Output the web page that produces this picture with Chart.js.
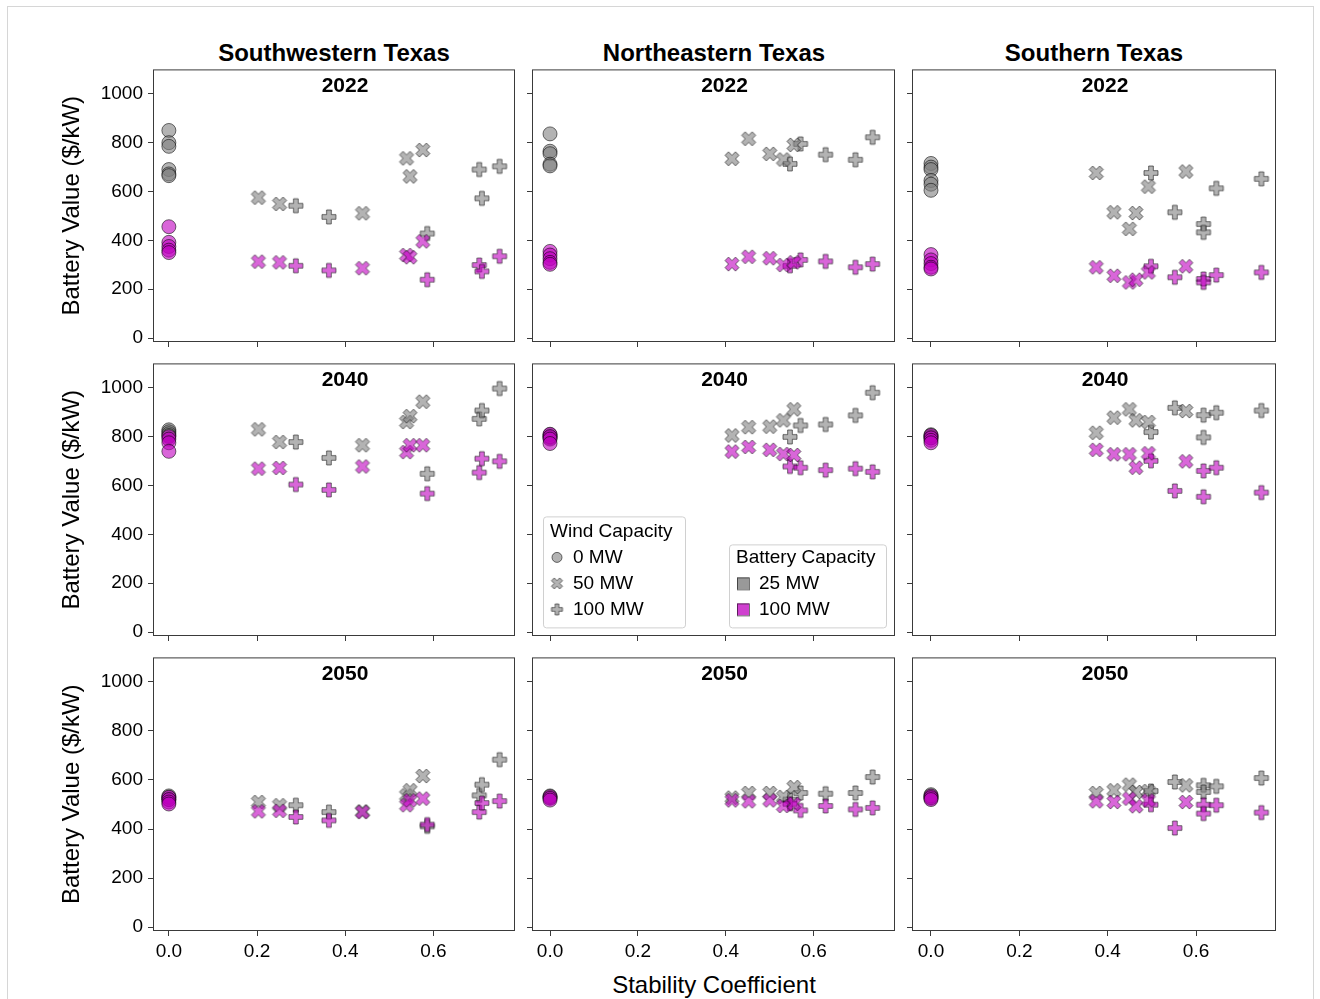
<!DOCTYPE html>
<html>
<head>
<meta charset="utf-8">
<script src="https://cdn.jsdelivr.net/npm/chart.js@4.4.0/dist/chart.umd.min.js"></script>
<style>
  body { margin: 0; background: #fff; font-family: "Liberation Sans", Arial, sans-serif; }
  #page { position: relative; width: 1320px; height: 999px; overflow: hidden; }
  #frame { position: absolute; left: 7px; top: 6px; width: 1305px; height: 1000px; border: 1px solid #d6d6d6; }
  canvas.panel { position: absolute; }
  .coltitle { position: absolute; top: 39px; width: 400px; font-size: 24px; line-height: 28px; font-weight: bold; text-align: center; }
  #xlabel { position: absolute; left: 514px; top: 971px; width: 400px; font-size: 24px; line-height: 28px; text-align: center; }
</style>
</head>
<body>
<div id="page">
  <div id="frame"></div>
  <div class="coltitle" style="left:134px">Southwestern Texas</div>
  <div class="coltitle" style="left:514px">Northeastern Texas</div>
  <div class="coltitle" style="left:894px">Southern Texas</div>
  <div id="xlabel">Stability Coefficient</div>
</div>
<script>
const FONT = '"Liberation Sans", Arial, sans-serif';

const regions = ['Southwestern Texas', 'Northeastern Texas', 'Southern Texas'];
const years = ['2022', '2040', '2050'];
const xTicks = [0, 0.2, 0.4, 0.6];
const yTicks = [0, 200, 400, 600, 800, 1000];

// stability coefficient of each site, by wind capacity
const swWind50 = [0.203, 0.251, 0.439, 0.539, 0.547, 0.576];
const swWind100 = [0.288, 0.363, 0.586, 0.704, 0.710, 0.750];
const neWind50 = [0.414, 0.452, 0.500, 0.531, 0.555];
const neWind100 = [0.546, 0.570, 0.627, 0.695, 0.734];
const sWind50 = [0.374, 0.414, 0.449, 0.464, 0.492, 0.577];
const sWind100 = [0.498, 0.552, 0.617, 0.617, 0.646, 0.748];

// battery value ($/kW). NoWind = 0 MW wind (x = 0), Bat25 / Bat100 = battery capacity
const sw2022NoWindBat25 = [850, 800, 785, 690, 672, 665];
const sw2022NoWindBat100 = [456, 392, 375, 360, 350];
const sw2022Wind50Bat25 = [575, 549, 511, 736, 662, 770];
const sw2022Wind50Bat100 = [313, 310, 286, 340, 331, 396];
const sw2022Wind100Bat25 = [542, 496, 428, 690, 572, 703];
const sw2022Wind100Bat100 = [296, 277, 239, 299, 273, 335];

const sw2040NoWindBat25 = [828, 820, 812, 805];
const sw2040NoWindBat100 = [800, 790, 775, 740];
const sw2040Wind50Bat25 = [830, 778, 765, 860, 884, 943];
const sw2040Wind50Bat100 = [669, 672, 678, 737, 765, 765];
const sw2040Wind100Bat25 = [778, 713, 648, 873, 907, 997];
const sw2040Wind100Bat100 = [604, 582, 567, 653, 710, 699];

const sw2050NoWindBat25 = [535, 528, 520];
const sw2050NoWindBat100 = [530, 520, 510, 502];
const sw2050Wind50Bat25 = [510, 497, 472, 537, 558, 616];
const sw2050Wind50Bat100 = [472, 474, 469, 497, 517, 524];
const sw2050Wind100Bat25 = [497, 469, 411, 537, 581, 683];
const sw2050Wind100Bat100 = [449, 435, 418, 469, 506, 514];

const ne2022NoWindBat25 = [836, 765, 755, 712, 705];
const ne2022NoWindBat100 = [355, 340, 325, 310, 302];
const ne2022Wind50Bat25 = [734, 816, 754, 731, 791];
const ne2022Wind50Bat100 = [303, 333, 327, 299, 310];
const ne2022Wind100Bat25 = [713, 795, 751, 730, 822];
const ne2022Wind100Bat100 = [296, 320, 314, 290, 303];

const ne2040NoWindBat25 = [808, 800, 795];
const ne2040NoWindBat100 = [810, 800, 790, 772];
const ne2040Wind50Bat25 = [805, 839, 841, 867, 912];
const ne2040Wind50Bat100 = [739, 758, 746, 729, 725];
const ne2040Wind100Bat25 = [799, 846, 850, 887, 980];
const ne2040Wind100Bat100 = [678, 673, 663, 669, 656];

const ne2050NoWindBat25 = [535, 528];
const ne2050NoWindBat100 = [532, 525, 518];
const ne2050Wind50Bat25 = [528, 547, 547, 531, 571];
const ne2050Wind50Bat100 = [517, 513, 517, 494, 503];
const ne2050Wind100Bat25 = [520, 547, 544, 547, 612];
const ne2050Wind100Bat100 = [503, 476, 494, 480, 486];

const s2022NoWindBat25 = [715, 700, 690, 645, 630, 605];
const s2022NoWindBat100 = [342, 320, 305, 290, 283];
const s2022Wind50Bat25 = [676, 515, 447, 512, 620, 682];
const s2022Wind50Bat100 = [290, 255, 228, 239, 269, 294];
const s2022Wind100Bat25 = [676, 515, 467, 433, 613, 652];
const s2022Wind100Bat100 = [294, 249, 242, 228, 258, 269];

const s2040NoWindBat25 = [808, 800, 795];
const s2040NoWindBat100 = [805, 795, 785, 775];
const s2040Wind50Bat25 = [816, 878, 912, 867, 860, 905];
const s2040Wind50Bat100 = [746, 728, 728, 673, 732, 699];
const s2040Wind100Bat25 = [819, 918, 888, 797, 898, 907];
const s2040Wind100Bat100 = [701, 578, 660, 554, 673, 571];

const s2050NoWindBat25 = [540, 532, 525];
const s2050NoWindBat100 = [535, 528, 520];
const s2050Wind50Bat25 = [547, 558, 581, 551, 555, 578];
const s2050Wind50Bat100 = [513, 510, 524, 493, 517, 510];
const s2050Wind100Bat25 = [555, 592, 578, 551, 574, 608];
const s2050Wind100Bat100 = [499, 404, 499, 463, 497, 467];

const panelData = [
  [sw2022NoWindBat25, sw2022NoWindBat100, sw2022Wind50Bat25, sw2022Wind50Bat100, sw2022Wind100Bat25, sw2022Wind100Bat100],
  [ne2022NoWindBat25, ne2022NoWindBat100, ne2022Wind50Bat25, ne2022Wind50Bat100, ne2022Wind100Bat25, ne2022Wind100Bat100],
  [s2022NoWindBat25, s2022NoWindBat100, s2022Wind50Bat25, s2022Wind50Bat100, s2022Wind100Bat25, s2022Wind100Bat100],
  [sw2040NoWindBat25, sw2040NoWindBat100, sw2040Wind50Bat25, sw2040Wind50Bat100, sw2040Wind100Bat25, sw2040Wind100Bat100],
  [ne2040NoWindBat25, ne2040NoWindBat100, ne2040Wind50Bat25, ne2040Wind50Bat100, ne2040Wind100Bat25, ne2040Wind100Bat100],
  [s2040NoWindBat25, s2040NoWindBat100, s2040Wind50Bat25, s2040Wind50Bat100, s2040Wind100Bat25, s2040Wind100Bat100],
  [sw2050NoWindBat25, sw2050NoWindBat100, sw2050Wind50Bat25, sw2050Wind50Bat100, sw2050Wind100Bat25, sw2050Wind100Bat100],
  [ne2050NoWindBat25, ne2050NoWindBat100, ne2050Wind50Bat25, ne2050Wind50Bat100, ne2050Wind100Bat25, ne2050Wind100Bat100],
  [s2050NoWindBat25, s2050NoWindBat100, s2050Wind50Bat25, s2050Wind50Bat100, s2050Wind100Bat25, s2050Wind100Bat100]
];
const windX = [[swWind50, swWind100], [neWind50, neWind100], [sWind50, sWind100]];

// page layout of the plot boxes
const colBox = [[153, 362], [532, 363], [912, 364]];
const rowBox = [[69, 273], [363, 273], [657, 274]];
const colRange = [[-0.036, 0.785], [-0.041, 0.785], [-0.043, 0.781]];
const YW = 113, PT = 16, PR = 2, XH = 40;

const GRAY = 'rgba(128,128,128,0.6)';
const MAG = 'rgba(191,0,191,0.6)';
const EDGE = 'rgba(0,0,0,0.55)';

// matplotlib filled 'P' and 'X' marker outlines
const PLUS = [[-1,-3],[1,-3],[1,-1],[3,-1],[3,1],[1,1],[1,3],[-1,3],[-1,1],[-3,1],[-3,-1],[-1,-1]].map(p => [p[0]/6, p[1]/6]);
const XMARK = [[-1,-2],[0,-1],[1,-2],[2,-1],[1,0],[2,1],[1,2],[0,1],[-1,2],[-2,1],[-1,0],[-2,-1]].map(p => [p[0]/4, p[1]/4]);

function markerCanvas(shape, fill, size) {
  const c = document.createElement('canvas');
  c.width = c.height = size + 4;
  const ctx = c.getContext('2d');
  ctx.translate(c.width / 2, c.height / 2);
  ctx.beginPath();
  shape.forEach((p, i) => i ? ctx.lineTo(p[0] * size, p[1] * size) : ctx.moveTo(p[0] * size, p[1] * size));
  ctx.closePath();
  ctx.fillStyle = fill;
  ctx.fill();
  ctx.strokeStyle = EDGE;
  ctx.lineWidth = 1;
  ctx.stroke();
  return c;
}
const plusGray = markerCanvas(PLUS, GRAY, 14), plusMag = markerCanvas(PLUS, MAG, 14);
const xGray = markerCanvas(XMARK, GRAY, 14), xMag = markerCanvas(XMARK, MAG, 14);

const framePlugin = {
  id: 'frame',
  afterDraw(chart) {
    const { ctx, chartArea: a } = chart;
    ctx.save();
    ctx.strokeStyle = '#3a3a3a';
    ctx.lineWidth = 1;
    ctx.strokeRect(a.left + 0.5, a.top + 0.5, a.width - 1, a.height - 1);
    ctx.restore();
  }
};

const yearPlugin = {
  id: 'yearLabel',
  afterDraw(chart, args, opts) {
    const { ctx, chartArea: a } = chart;
    ctx.save();
    ctx.font = 'bold 21px ' + FONT;
    ctx.fillStyle = '#000';
    ctx.textAlign = 'center';
    ctx.textBaseline = 'middle';
    ctx.fillText(opts.text, (a.left + a.right) / 2 + 11, a.top + 17);
    ctx.restore();
  }
};

const legendPlugin = {
  id: 'capLegend',
  afterDraw(chart) {
    const { ctx, chartArea: a } = chart;
    const L = a.left, T = a.top;
    function box(x, y, w, h) {
      ctx.beginPath();
      if (ctx.roundRect) ctx.roundRect(x + 0.5, y + 0.5, w, h, 3); else ctx.rect(x + 0.5, y + 0.5, w, h);
      ctx.fillStyle = 'rgba(255,255,255,0.85)';
      ctx.fill();
      ctx.strokeStyle = '#d0d0d0';
      ctx.lineWidth = 1;
      ctx.stroke();
    }
    function label(t, x, y) { ctx.fillStyle = '#000'; ctx.fillText(t, x, y); }
    ctx.save();
    ctx.font = '19px ' + FONT;
    ctx.textAlign = 'left';
    ctx.textBaseline = 'middle';

    box(L + 11, T + 153, 142, 111);
    label('Wind Capacity', L + 18, T + 168);
    ctx.beginPath();
    ctx.arc(L + 25, T + 194, 5, 0, Math.PI * 2);
    ctx.fillStyle = GRAY; ctx.fill();
    ctx.strokeStyle = EDGE; ctx.stroke();
    label('0 MW', L + 41, T + 194);
    const xs = markerCanvas(XMARK, GRAY, 11), ps = markerCanvas(PLUS, GRAY, 11);
    ctx.drawImage(xs, L + 25 - xs.width / 2, T + 220 - xs.height / 2);
    label('50 MW', L + 41, T + 220);
    ctx.drawImage(ps, L + 25 - ps.width / 2, T + 246 - ps.height / 2);
    label('100 MW', L + 41, T + 246);

    box(L + 197, T + 181, 157, 83);
    label('Battery Capacity', L + 204, T + 194);
    ctx.fillStyle = 'rgba(128,128,128,0.8)';
    ctx.fillRect(L + 205, T + 214, 12, 12);
    ctx.strokeStyle = EDGE; ctx.strokeRect(L + 205.5, T + 214.5, 12, 12);
    label('25 MW', L + 227, T + 220);
    ctx.fillStyle = 'rgba(191,0,191,0.75)';
    ctx.fillRect(L + 205, T + 240, 12, 12);
    ctx.strokeStyle = EDGE; ctx.strokeRect(L + 205.5, T + 240.5, 12, 12);
    label('100 MW', L + 227, T + 246);
    ctx.restore();
  }
};

function points(xs, ys) { return ys.map((y, i) => ({ x: xs[i], y: y })); }
function zeros(ys) { return ys.map(y => ({ x: 0, y: y })); }

const page = document.getElementById('page');
for (let r = 0; r < 3; r++) {
  for (let c = 0; c < 3; c++) {
    const vals = panelData[r * 3 + c];
    const [x50, x100] = windX[c];
    const canvas = document.createElement('canvas');
    canvas.className = 'panel';
    canvas.width = YW + colBox[c][1] + PR;
    canvas.height = PT + rowBox[r][1] + XH;
    canvas.style.left = (colBox[c][0] - YW) + 'px';
    canvas.style.top = (rowBox[r][0] - PT) + 'px';
    page.appendChild(canvas);

    const circle = (data, fill) => ({ data, pointStyle: 'circle', pointRadius: 7, backgroundColor: fill, borderColor: EDGE, borderWidth: 1 });
    const shaped = (data, img) => ({ data, pointStyle: img, pointRadius: 6 });
    const datasets = [
      circle(zeros(vals[1]), MAG),
      shaped(points(x50, vals[3]), xMag),
      shaped(points(x100, vals[5]), plusMag),
      circle(zeros(vals[0]), GRAY),
      shaped(points(x50, vals[2]), xGray),
      shaped(points(x100, vals[4]), plusGray)
    ];

    const plugins = [framePlugin, yearPlugin];
    if (r === 1 && c === 1) plugins.push(legendPlugin);

    new Chart(canvas, {
      type: 'scatter',
      data: { datasets },
      options: {
        responsive: false,
        animation: false,
        events: [],
        layout: { autoPadding: false, padding: { left: 0, top: PT, right: PR, bottom: 0 } },
        plugins: {
          legend: { display: false },
          tooltip: { enabled: false },
          yearLabel: { text: years[r] }
        },
        scales: {
          x: {
            type: 'linear',
            min: colRange[c][0],
            max: colRange[c][1],
            afterBuildTicks: s => { s.ticks = xTicks.map(v => ({ value: v })); },
            afterFit: s => { s.height = XH; s.paddingLeft = 0; s.paddingRight = 0; },
            border: { display: false },
            grid: { drawOnChartArea: false, tickLength: 5, color: '#3a3a3a', tickColor: '#3a3a3a' },
            ticks: {
              padding: 4,
              color: r === 2 ? '#000' : 'rgba(0,0,0,0)',
              font: { size: 19, family: FONT },
              callback: v => v.toFixed(1)
            }
          },
          y: {
            type: 'linear',
            min: -16,
            max: 1100,
            afterBuildTicks: s => { s.ticks = yTicks.map(v => ({ value: v })); },
            afterFit: s => { s.width = YW; },
            border: { display: false },
            grid: { drawOnChartArea: false, tickLength: 5, color: '#3a3a3a', tickColor: '#3a3a3a' },
            title: {
              display: c === 0,
              text: 'Battery Value ($/kW)',
              color: '#000',
              font: { size: 24, family: FONT },
              padding: { top: 18, bottom: 0 }
            },
            ticks: {
              padding: 5,
              color: c === 0 ? '#000' : 'rgba(0,0,0,0)',
              font: { size: 19, family: FONT },
              callback: v => String(v)
            }
          }
        }
      },
      plugins
    });
  }
}
</script>
</body>
</html>
